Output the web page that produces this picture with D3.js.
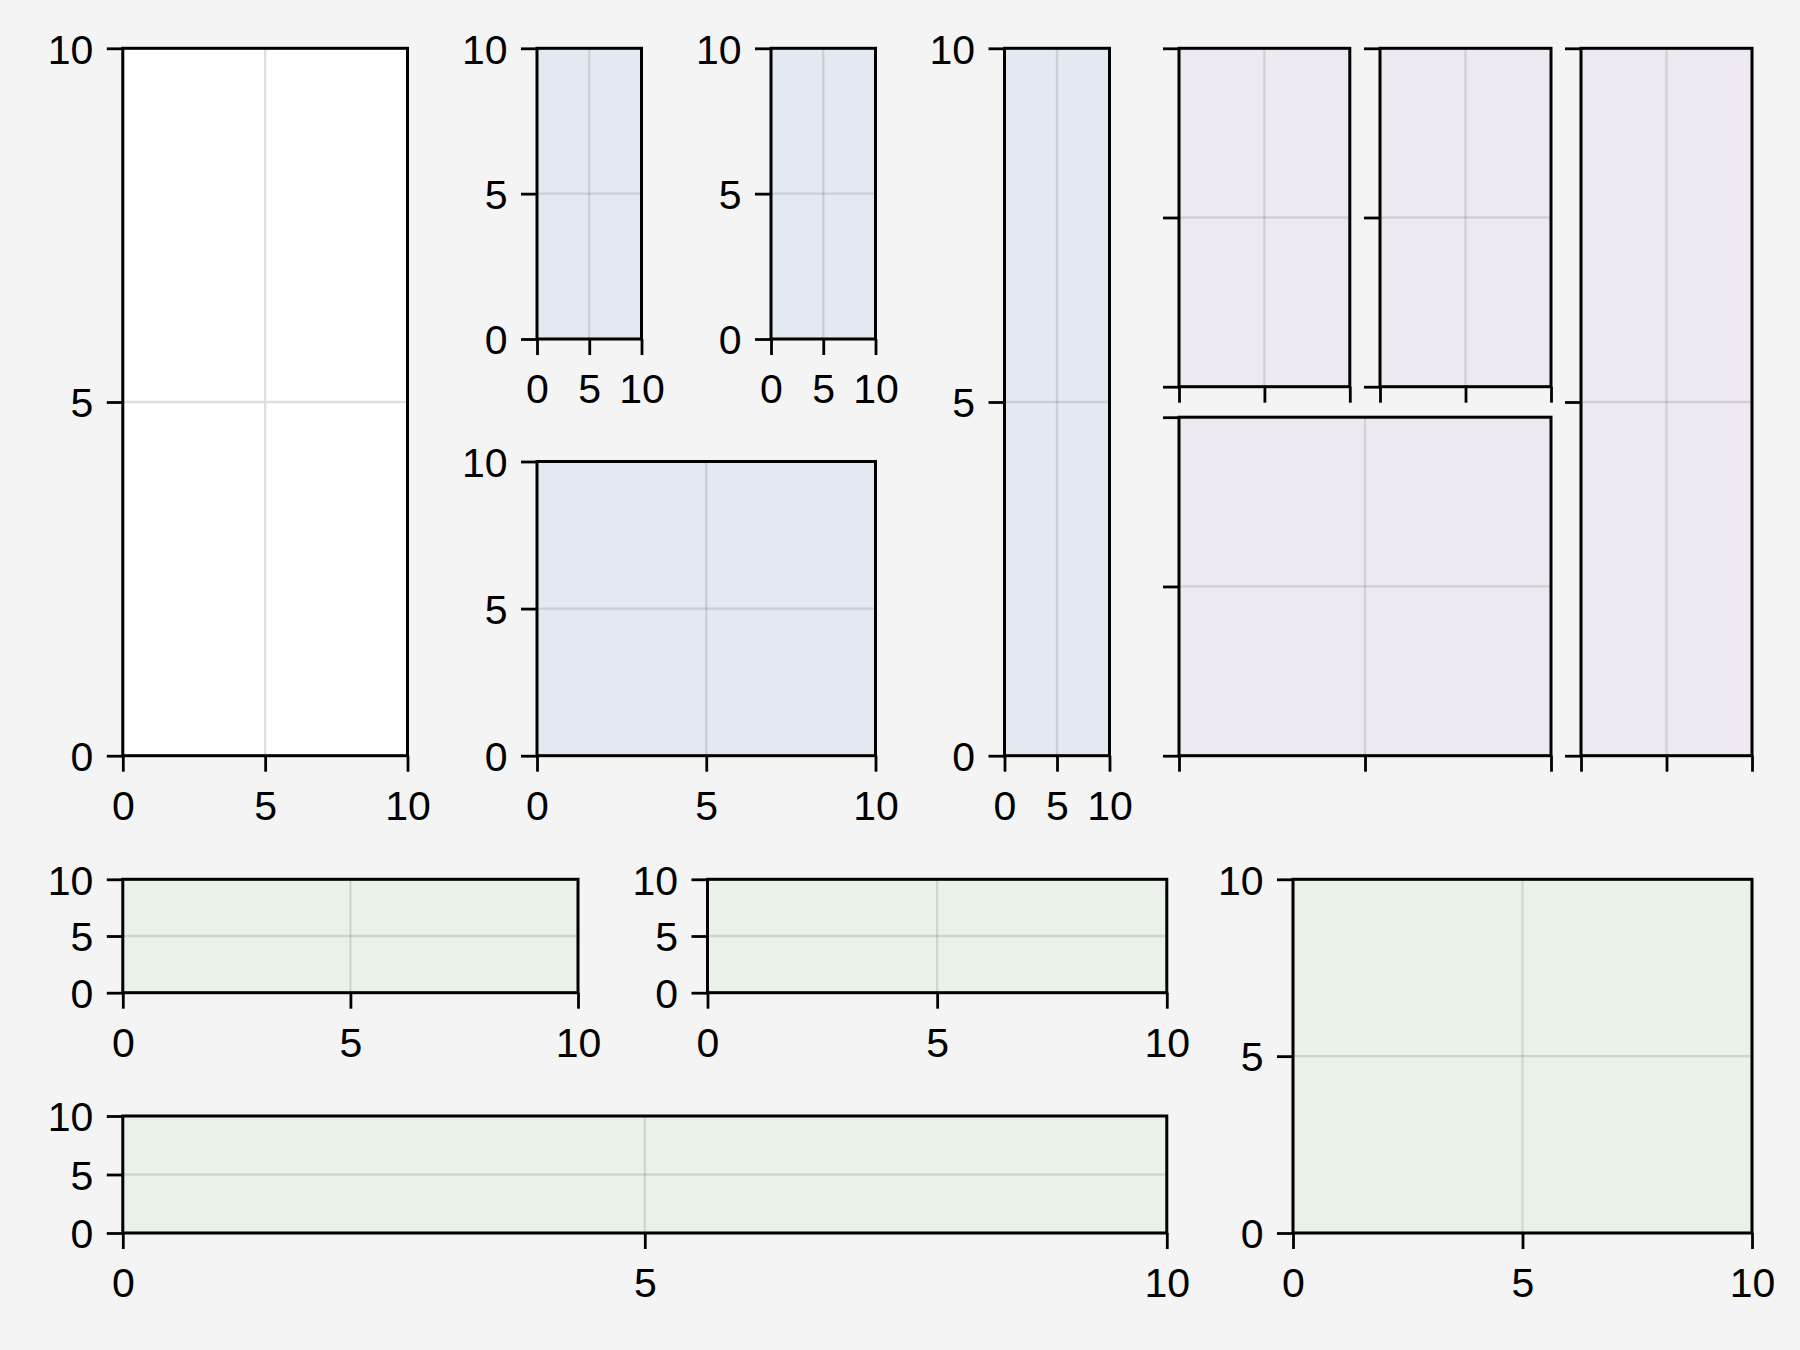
<!DOCTYPE html>
<html>
<head>
<meta charset="utf-8">
<script src="https://cdn.jsdelivr.net/npm/d3@7"></script>
<style>
  html, body { margin: 0; padding: 0; background: #f4f4f4; }
  svg { display: block; }
  text { font-family: "Liberation Sans", Arial, "DejaVu Sans", sans-serif; }
</style>
</head>
<body>
<svg id="chart" width="1800" height="1350"></svg>
<script>
// ---- data ----
const xDomain = [0, 10];
const yDomain = [0, 10];
const tickValues = [0, 5, 10];
const tickLabels = ["0", "5", "10"];
const panelIds = ["A", "B", "C", "D", "E", "F", "G", "H", "I", "J", "K", "L", "M"];
const panelGroups = ["white", "blue", "blue", "blue", "blue", "purple", "purple", "purple", "purple", "green", "green", "green", "green"];
const panelShowLabels = [true, true, true, true, true, false, false, false, false, true, true, true, true];

// ---- layout (pixel boxes: left, top, right, bottom) ----
const layout = {
  A: [122.8, 48.3, 407.5, 755.7],
  B: [537, 48.3, 641.5, 339],
  C: [771, 48.3, 875.5, 339],
  D: [537, 461.5, 875.5, 755.7],
  E: [1004.5, 48.3, 1109.5, 755.7],
  F: [1179, 48.3, 1349.8, 386.7],
  G: [1380, 48.3, 1551, 386.7],
  H: [1179, 417.2, 1551, 755.7],
  I: [1581, 48.3, 1752, 755.7],
  J: [122.8, 879.3, 578, 992.7],
  K: [707.5, 879.3, 1166.8, 992.7],
  L: [122.8, 1116, 1166.8, 1233],
  M: [1293, 879.3, 1752, 1233]
};
const styles = {
  white:  { fill: "#ffffff", grid: "#dfdfdf" },
  blue:   { fill: "#e2e9f0", grid: "rgba(0,0,0,0.11)" },
  purple: { fill: "#eee9f0", grid: "rgba(0,0,0,0.11)" },
  green:  { fill: "#e9f1e8", grid: "rgba(0,0,0,0.11)" }
};
const FONT = 41;

const svg = d3.select("#chart");
svg.append("rect").attr("width", 1800).attr("height", 1350).attr("fill", "#f4f4f4");

panelIds.forEach((id, i) => {
  const [l, t, r, b] = layout[id];
  const st = styles[panelGroups[i]];
  const show = panelShowLabels[i];
  const x = d3.scaleLinear().domain(xDomain).range([l, r]);
  const y = d3.scaleLinear().domain(yDomain).range([b, t]);
  const g = svg.append("g").attr("class", "panel-" + id);

  g.append("rect")
    .attr("x", x(xDomain[0])).attr("y", y(yDomain[1]))
    .attr("width", x(xDomain[1]) - x(xDomain[0]))
    .attr("height", y(yDomain[0]) - y(yDomain[1]))
    .attr("fill", st.fill);

  // gridlines
  g.selectAll(".vg").data(tickValues).join("line")
    .attr("x1", d => x(d)).attr("x2", d => x(d))
    .attr("y1", y(yDomain[0])).attr("y2", y(yDomain[1]))
    .attr("stroke", st.grid).attr("stroke-width", 2.3);
  g.selectAll(".hg").data(tickValues).join("line")
    .attr("y1", d => y(d)).attr("y2", d => y(d))
    .attr("x1", x(xDomain[0])).attr("x2", x(xDomain[1]))
    .attr("stroke", st.grid).attr("stroke-width", 2.3);

  const fmt = (d) => show ? tickLabels[tickValues.indexOf(d)] : "";

  const xAxis = d3.axisBottom(x).tickValues(tickValues).tickFormat(fmt)
    .tickSize(16).tickSizeOuter(0).tickPadding(19);
  const gx = g.append("g").attr("transform", `translate(0,${y(yDomain[0])})`).call(xAxis);
  gx.select(".domain").remove();
  gx.selectAll(".tick line").attr("stroke", "#000").attr("stroke-width", 2.8);
  gx.selectAll(".tick text").attr("font-size", FONT).attr("fill", "#000")
    .attr("font-family", "Liberation Sans, Arial, sans-serif");

  const yAxis = d3.axisLeft(y).tickValues(tickValues).tickFormat(fmt)
    .tickSize(16).tickSizeOuter(0).tickPadding(13.5);
  const gy = g.append("g").attr("transform", `translate(${x(xDomain[0])},0)`).call(yAxis);
  gy.select(".domain").remove();
  gy.selectAll(".tick line").attr("stroke", "#000").attr("stroke-width", 2.8);
  gy.selectAll(".tick text").attr("font-size", FONT).attr("fill", "#000")
    .attr("dy", "0.36em")
    .attr("font-family", "Liberation Sans, Arial, sans-serif");

  // frame
  g.append("rect")
    .attr("x", x(xDomain[0])).attr("y", y(yDomain[1]))
    .attr("width", x(xDomain[1]) - x(xDomain[0]))
    .attr("height", y(yDomain[0]) - y(yDomain[1]))
    .attr("fill", "none").attr("stroke", "#000").attr("stroke-width", 3);
});
</script>
</body>
</html>
